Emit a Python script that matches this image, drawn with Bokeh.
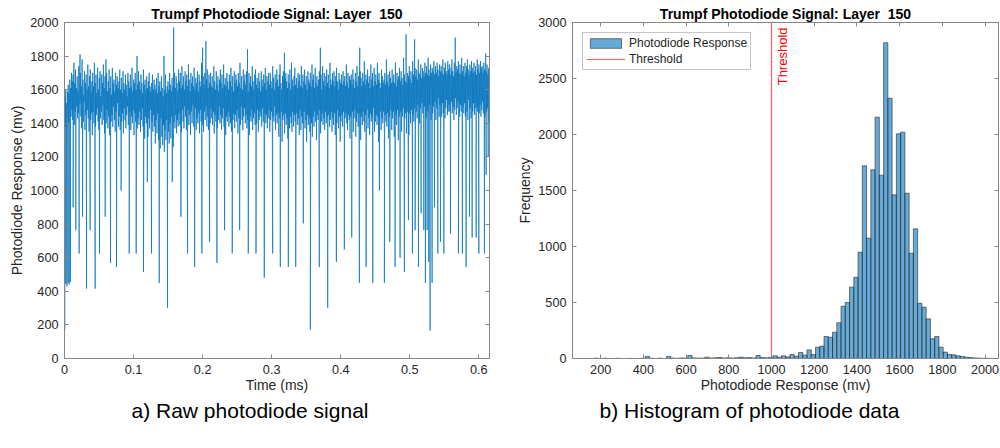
import numpy as np
from bokeh.plotting import figure
from bokeh.layouts import row
from bokeh.models import (ColumnDataSource, Range1d, LinearAxis, FixedTicker,
                          Title, Label, Legend, LegendItem)
from bokeh.embed import file_html
from bokeh.resources import INLINE

FONT = "Liberation Sans"
AXIS_GREY = "#868686"
TEXT_GREY = "#262626"
SIGNAL_BLUE = "#0072bd"
THRESH_RED = "#ff5a5a"

# ---------------- data ----------------
layer_title = "Trumpf Photodiode Signal: Layer\u00a0 150"
signal_end_ms = 0.6154

# photodiode samples in the normal melt-pool band (mV), evenly spaced in time
band_mv = [
    1410, 1560, 1380, 1600, 1450, 1520, 1360, 1590, 1470, 1630, 1400, 1580, 1500, 1660, 1390, 1610, 1440, 1700, 1480, 1650,
    1420, 1690, 1540, 1760, 1390, 1640, 1470, 1720, 1350, 1610, 1500, 1680, 1430, 1590, 1460, 1740, 1380, 1650, 1520, 1700,
    1440, 1620, 1370, 1780, 1490, 1660, 1410, 1570, 1530, 1710, 1360, 1640, 1450, 1690, 1400, 1600, 1480, 1750, 1430, 1620,
    1350, 1680, 1510, 1720, 1420, 1590, 1460, 1650, 1330, 1700, 1470, 1620, 1400, 1760, 1520, 1640, 1380, 1690, 1450, 1580,
    1490, 1730, 1410, 1600, 1360, 1670, 1500, 1710, 1430, 1560, 1470, 1690, 1390, 1640, 1510, 1750, 1420, 1610, 1340, 1680,
    1460, 1620, 1400, 1700, 1480, 1590, 1370, 1650, 1440, 1720, 1330, 1610, 1490, 1680, 1410, 1570, 1450, 1730, 1380, 1640,
    1500, 1660, 1420, 1590, 1350, 1700, 1470, 1630, 1400, 1680, 1520, 1610, 1380, 1650, 1440, 1720, 1360, 1600, 1480, 1670,
    1410, 1580, 1460, 1710, 1340, 1640, 1490, 1600, 1420, 1690, 1370, 1630, 1450, 1560, 1500, 1700, 1390, 1650, 1430, 1610,
    1470, 1690, 1360, 1620, 1440, 1730, 1400, 1590, 1480, 1660, 1330, 1640, 1460, 1700, 1410, 1600, 1500, 1680, 1370, 1630,
    1430, 1710, 1390, 1650, 1470, 1600, 1350, 1690, 1420, 1640, 1490, 1580, 1380, 1720, 1450, 1630, 1310, 1660, 1440, 1600,
    1400, 1680, 1460, 1610, 1320, 1650, 1430, 1700, 1370, 1620, 1480, 1590, 1290, 1640, 1410, 1690, 1350, 1600, 1450, 1660,
    1380, 1630, 1280, 1600, 1420, 1670, 1340, 1580, 1460, 1700, 1300, 1620, 1400, 1650, 1250, 1590, 1430, 1680, 1320, 1610,
    1270, 1560, 1390, 1640, 1230, 1600, 1360, 1690, 1300, 1580, 1420, 1620, 1240, 1650, 1350, 1600, 1280, 1700, 1400, 1630,
    1310, 1590, 1440, 1670, 1330, 1620, 1260, 1650, 1410, 1700, 1370, 1610, 1450, 1680, 1340, 1640, 1420, 1590, 1380, 1720,
    1460, 1650, 1390, 1700, 1430, 1610, 1350, 1740, 1480, 1630, 1410, 1680, 1370, 1600, 1500, 1710, 1440, 1650, 1360, 1690,
    1420, 1620, 1480, 1750, 1390, 1660, 1450, 1590, 1330, 1700, 1470, 1640, 1400, 1680, 1510, 1620, 1380, 1730, 1440, 1600,
    1490, 1670, 1360, 1640, 1430, 1710, 1400, 1590, 1460, 1690, 1340, 1650, 1480, 1620, 1410, 1760, 1450, 1600, 1390, 1680,
    1350, 1630, 1470, 1700, 1420, 1580, 1500, 1660, 1380, 1720, 1440, 1610, 1360, 1690, 1460, 1640, 1400, 1700, 1490, 1620,
    1430, 1680, 1390, 1610, 1470, 1740, 1340, 1650, 1450, 1600, 1410, 1710, 1480, 1630, 1370, 1680, 1420, 1590, 1500, 1660,
    1400, 1720, 1450, 1640, 1360, 1690, 1430, 1610, 1490, 1750, 1380, 1630, 1460, 1670, 1330, 1620, 1440, 1700, 1410, 1650,
    1470, 1600, 1380, 1690, 1440, 1650, 1400, 1730, 1350, 1620, 1490, 1680, 1420, 1590, 1460, 1710, 1370, 1640, 1450, 1690,
    1410, 1660, 1480, 1620, 1340, 1700, 1430, 1640, 1460, 1760, 1390, 1610, 1500, 1680, 1420, 1600, 1360, 1720, 1440, 1650,
    1490, 1690, 1400, 1630, 1450, 1710, 1370, 1660, 1420, 1590, 1470, 1700, 1330, 1640, 1440, 1680, 1410, 1620, 1480, 1740,
    1360, 1650, 1430, 1600, 1460, 1690, 1390, 1720, 1450, 1630, 1400, 1670, 1480, 1610, 1350, 1700, 1420, 1650, 1470, 1590,
    1440, 1710, 1380, 1660, 1490, 1620, 1410, 1690, 1340, 1640, 1460, 1730, 1400, 1600, 1450, 1680, 1370, 1650, 1430, 1700,
    1480, 1630, 1350, 1700, 1420, 1650, 1470, 1610, 1390, 1740, 1440, 1670, 1410, 1600, 1500, 1690, 1360, 1640, 1450, 1720,
    1400, 1660, 1460, 1620, 1320, 1690, 1430, 1750, 1380, 1640, 1470, 1600, 1290, 1680, 1420, 1710, 1450, 1630, 1340, 1670,
    1460, 1700, 1390, 1650, 1430, 1610, 1310, 1690, 1480, 1640, 1370, 1720, 1440, 1600, 1400, 1760, 1350, 1660, 1470, 1620,
    1380, 1680, 1450, 1730, 1410, 1630, 1280, 1670, 1460, 1610, 1390, 1700, 1430, 1650, 1330, 1690, 1480, 1620, 1360, 1740,
    1440, 1610, 1400, 1690, 1300, 1650, 1470, 1720, 1370, 1630, 1420, 1680, 1290, 1600, 1450, 1710, 1390, 1660, 1430, 1640,
    1350, 1700, 1460, 1620, 1400, 1750, 1320, 1660, 1440, 1690, 1380, 1610, 1470, 1730, 1410, 1640, 1300, 1680, 1450, 1620,
    1420, 1660, 1370, 1710, 1480, 1630, 1340, 1690, 1410, 1600, 1460, 1740, 1390, 1650, 1430, 1700, 1360, 1620, 1470, 1680,
    1400, 1720, 1440, 1640, 1310, 1690, 1450, 1610, 1380, 1760, 1420, 1660, 1470, 1630, 1350, 1700, 1430, 1650, 1390, 1710,
    1460, 1620, 1330, 1680, 1420, 1730, 1400, 1650, 1480, 1600, 1370, 1700, 1440, 1660, 1290, 1640, 1410, 1690, 1450, 1630,
    1380, 1710, 1470, 1650, 1340, 1680, 1430, 1620, 1460, 1750, 1400, 1640, 1360, 1700, 1450, 1610, 1420, 1680, 1310, 1660,
    1440, 1690, 1390, 1630, 1470, 1720, 1350, 1660, 1430, 1610, 1480, 1700, 1320, 1650, 1410, 1740, 1460, 1620, 1380, 1680,
    1420, 1640, 1460, 1710, 1300, 1670, 1440, 1620, 1390, 1700, 1470, 1650, 1410, 1770, 1350, 1630, 1450, 1690, 1400, 1660,
    1480, 1720, 1370, 1640, 1430, 1680, 1330, 1610, 1460, 1750, 1410, 1660, 1440, 1700, 1380, 1620, 1490, 1730, 1350, 1650,
    1410, 1690, 1450, 1630, 1390, 1760, 1440, 1660, 1290, 1700, 1420, 1640, 1470, 1610, 1360, 1720, 1430, 1680, 1400, 1640,
    1470, 1660, 1340, 1700, 1450, 1630, 1410, 1780, 1380, 1650, 1460, 1690, 1310, 1620, 1440, 1710, 1400, 1670, 1480, 1640,
    1360, 1720, 1430, 1650, 1470, 1690, 1320, 1640, 1420, 1760, 1450, 1620, 1390, 1700, 1480, 1660, 1300, 1680, 1440, 1730,
    1410, 1650, 1470, 1710, 1350, 1670, 1440, 1630, 1490, 1790, 1380, 1690, 1430, 1650, 1460, 1720, 1340, 1640, 1470, 1700,
    1420, 1680, 1330, 1740, 1460, 1660, 1400, 1710, 1480, 1640, 1370, 1770, 1450, 1690, 1410, 1650, 1490, 1730, 1360, 1680,
    1470, 1720, 1430, 1660, 1510, 1780, 1450, 1700, 1400, 1690, 1490, 1750, 1440, 1670, 1520, 1730, 1460, 1710, 1420, 1680,
    1500, 1760, 1460, 1700, 1430, 1740, 1530, 1690, 1470, 1790, 1440, 1720, 1510, 1680, 1480, 1750, 1420, 1700, 1540, 1730,
    1460, 1710, 1500, 1770, 1450, 1690, 1530, 1740, 1420, 1700, 1490, 1760, 1470, 1720, 1550, 1680, 1440, 1750, 1510, 1710,
    1480, 1740, 1440, 1700, 1520, 1780, 1460, 1690, 1500, 1730, 1430, 1760, 1490, 1710, 1540, 1690, 1450, 1770, 1470, 1720,
    1510, 1750, 1470, 1690, 1440, 1730, 1530, 1780, 1460, 1710, 1500, 1680, 1420, 1760, 1480, 1720, 1550, 1700, 1450, 1740,
    1490, 1720, 1530, 1770, 1460, 1700, 1440, 1750, 1510, 1690, 1470, 1790, 1430, 1710, 1500, 1740, 1460, 1680, 1520, 1760,
    1440, 1700, 1500, 1740, 1470, 1780, 1420, 1720, 1540, 1690, 1460, 1750, 1490, 1710, 1430, 1770, 1510, 1730, 1470, 1700,
    1520, 1760, 1450, 1710, 1490, 1740, 1430, 1690, 1500, 1780, 1470, 1720, 1540, 1750, 1460, 1700, 1510, 1770, 1440, 1730,
    1480, 1740, 1530, 1700, 1460, 1760, 1500, 1720, 1440, 1790, 1520, 1710, 1470, 1750, 1490, 1690, 1450, 1730, 1410, 1620,
]

# single-sample drop-outs (time in ms, level in mV)
dip_time_ms = [
    0.0003, 0.0018, 0.0035, 0.0052, 0.0068, 0.0085,
    0.0125, 0.0164, 0.0212, 0.0261, 0.0319, 0.0371, 0.0444, 0.0507, 0.0589, 0.0666, 0.0753,
    0.0820, 0.0937, 0.1038, 0.1144, 0.1200, 0.1260, 0.1372, 0.1492, 0.1560, 0.1686, 0.1782,
    0.1884, 0.1990, 0.2101, 0.2207, 0.2318, 0.2429, 0.2536, 0.2661,
    0.2773, 0.2893, 0.3014, 0.3125, 0.3241, 0.3348, 0.3458, 0.3560, 0.3690, 0.3811, 0.3937,
    0.4052, 0.4159, 0.4270, 0.4367, 0.4464, 0.4560, 0.4632, 0.4710, 0.4787, 0.4859, 0.4922,
    0.4980, 0.5038, 0.5077, 0.5125, 0.5164, 0.5203, 0.5226, 0.5251, 0.5275, 0.5294, 0.5323,
    0.5357, 0.5406, 0.5444, 0.5493, 0.5589, 0.5704, 0.5762, 0.5816, 0.5864, 0.5903, 0.5961,
    0.6000, 0.6081, 0.6106, 0.6135,
]
dip_mv = [
    170, 445, 430, 450, 440, 455,
    900, 764, 625, 844, 416, 764, 416, 625, 844, 569, 545,
    1000, 625, 625, 515, 1050, 625, 450, 302, 1050, 844, 625,
    545, 625, 694, 569, 764, 625, 764, 625,
    625, 481, 625, 545, 545, 545, 804, 171, 545, 302, 575,
    649, 720, 450, 545, 450, 1000, 450, 694, 545, 600, 515,
    824, 625, 764, 545, 864, 764, 450, 764, 575, 167, 450,
    900, 625, 694, 625, 744, 625, 625, 545, 844, 720, 720,
    625, 625, 1093, 1200,
]

# isolated bright spikes (time in ms, level in mV)
peak_time_ms = [0.0225, 0.0600, 0.1050, 0.1440, 0.1580, 0.2000, 0.2048, 0.2650,
                0.3185, 0.3705, 0.4275, 0.4946, 0.5070, 0.5657, 0.6100]
peak_mv = [1810, 1780, 1800, 1800, 1970, 1850, 1890, 1840,
           1820, 1850, 1850, 1930, 1900, 1910, 1815]

# histogram of the same layer: 100 equal bins spanning the recorded range
hist_lo_mv = 70.0
hist_hi_mv = 2063.0
hist_counts = [
    0, 0, 0, 0, 0, 3, 0, 2, 0, 0,
    2, 0, 0, 1, 0, 0, 2, 18, 2, 0,
    3, 0, 18, 4, 2, 5, 3, 27, 5, 3,
    4, 12, 4, 6, 9, 5, 6, 4, 7, 12,
    6, 8, 5, 27, 8, 6, 10, 24, 12, 24,
    14, 36, 20, 54, 30, 77, 36, 101, 110, 196,
    190, 235, 319, 467, 500, 637, 726, 949, 1720, 1074,
    1685, 2155, 1637, 2819, 2324, 1461, 2006, 2021, 1476, 940,
    1158, 494, 458, 354, 176, 196, 101, 57, 36, 33,
    24, 18, 12, 8, 5, 3, 2, 1, 1, 0,
]
threshold_mv = 1000

time_ticks = [0, 0.1, 0.2, 0.3, 0.4, 0.5, 0.6]
mv_ticks = [0, 200, 400, 600, 800, 1000, 1200, 1400, 1600, 1800, 2000]
resp_ticks = [200, 400, 600, 800, 1000, 1200, 1400, 1600, 1800, 2000]
freq_ticks = [0, 500, 1000, 1500, 2000, 2500, 3000]

# ---------------- helpers ----------------
def style_axis(ax, label, label_standoff):
    ax.axis_line_color = AXIS_GREY
    ax.axis_line_width = 1
    ax.major_tick_line_color = AXIS_GREY
    ax.major_tick_in = 4
    ax.major_tick_out = 0
    ax.minor_tick_line_color = None
    ax.major_label_text_font = FONT
    ax.major_label_text_font_size = "12.7px"
    ax.major_label_text_color = TEXT_GREY
    ax.major_label_standoff = 6
    ax.axis_label = label
    ax.axis_label_text_font = FONT
    ax.axis_label_text_font_size = "14px"
    ax.axis_label_text_font_style = "normal"
    ax.axis_label_text_color = TEXT_GREY
    ax.axis_label_standoff = label_standoff


def mirror_axes(p, xt, yt):
    top = LinearAxis(ticker=FixedTicker(ticks=xt))
    right = LinearAxis(ticker=FixedTicker(ticks=yt))
    for ax in (top, right):
        ax.axis_line_color = AXIS_GREY
        ax.major_tick_line_color = AXIS_GREY
        ax.major_tick_in = 4
        ax.major_tick_out = 0
        ax.minor_tick_line_color = None
        ax.major_label_text_font_size = "0px"
        ax.major_label_text_color = None
        ax.major_label_standoff = 0
    p.add_layout(top, "above")
    p.add_layout(right, "right")


def base_figure(xr, yr, left, right):
    p = figure(width=500, height=448, output_backend="svg", toolbar_location=None,
               x_range=xr, y_range=yr,
               min_border_left=left, min_border_right=right,
               min_border_top=22, min_border_bottom=90)
    p.xgrid.visible = False
    p.ygrid.visible = False
    p.outline_line_color = None
    p.background_fill_color = "white"
    p.border_fill_color = "white"
    p.title.text = layer_title
    p.title.align = "center"
    p.title.text_font = FONT
    p.title.text_font_size = "14px"
    p.title.text_font_style = "bold"
    p.title.text_color = "black"
    p.title.standoff = 2
    return p


def caption(p, text, shift):
    cap = Title(text=text, align="left", text_font=FONT, text_font_size="21px",
                text_font_style="normal", text_color="black", offset=shift, standoff=3)
    p.add_layout(cap, "below")


# ---------------- raw signal ----------------
t_band = np.linspace(0.0, signal_end_ms, len(band_mv))
t_all = np.concatenate([t_band, np.array(dip_time_ms), np.array(peak_time_ms)])
v_all = np.concatenate([np.array(band_mv, float), np.array(dip_mv, float), np.array(peak_mv, float)])
order = np.argsort(t_all, kind="stable")
sig = ColumnDataSource(dict(t=t_all[order], mv=v_all[order]))

p1 = base_figure(Range1d(0, signal_end_ms), Range1d(0, 2000), 64, 11)
p1.line(x="t", y="mv", source=sig, line_color=SIGNAL_BLUE, line_width=0.7)
p1.xaxis.ticker = FixedTicker(ticks=time_ticks)
p1.yaxis.ticker = FixedTicker(ticks=mv_ticks)
p1.xaxis.major_label_overrides = {0: "0"}
style_axis(p1.xaxis[0], "Time (ms)", 0)
style_axis(p1.yaxis[0], "Photodiode Response (mv)", 2)
mirror_axes(p1, time_ticks, mv_ticks)
caption(p1, "a) Raw photodiode signal", 67)

# ---------------- histogram ----------------
edges = np.linspace(hist_lo_mv, hist_hi_mv, len(hist_counts) + 1)
hsrc = ColumnDataSource(dict(left=edges[:-1], right=edges[1:], top=hist_counts))

p2 = base_figure(Range1d(68, hist_hi_mv), Range1d(0, 3000), 72, 2)
bars = p2.quad(left="left", right="right", bottom=0, top="top", source=hsrc,
               fill_color=SIGNAL_BLUE, fill_alpha=0.6,
               line_color="#262626", line_width=0.6)
thr = p2.line(x=[threshold_mv, threshold_mv], y=[0, 3000],
              line_color=THRESH_RED, line_width=1.2)
p2.xaxis.ticker = FixedTicker(ticks=resp_ticks)
p2.yaxis.ticker = FixedTicker(ticks=freq_ticks)
style_axis(p2.xaxis[0], "Photodiode Response (mv)", 0)
style_axis(p2.yaxis[0], "Frequency", 2)
mirror_axes(p2, resp_ticks, freq_ticks)

p2.add_layout(Label(x=threshold_mv, y=3000, text="Threshold", angle=90, angle_units="deg",
                    text_align="right", text_baseline="top", x_offset=3, y_offset=-5,
                    text_color="red", text_font=FONT, text_font_size="13px"))

legend = Legend(items=[LegendItem(label="Photodiode Response", renderers=[bars]),
                       LegendItem(label="Threshold", renderers=[thr])],
                location="top_left")
legend.label_text_font = FONT
legend.label_text_font_size = "12px"
legend.label_text_color = TEXT_GREY
legend.border_line_color = "#8c8c8c"
legend.background_fill_alpha = 1
legend.glyph_width = 39
legend.glyph_height = 12
legend.label_height = 12
legend.label_standoff = 4
legend.spacing = 2
legend.padding = 3
legend.margin = 10
p2.add_layout(legend)
caption(p2, "b) Histogram of photodiode data", 27)

layout = row(p1, p2)
open("out.html", "w").write(file_html(layout, INLINE, title="Photodiode signal"))
